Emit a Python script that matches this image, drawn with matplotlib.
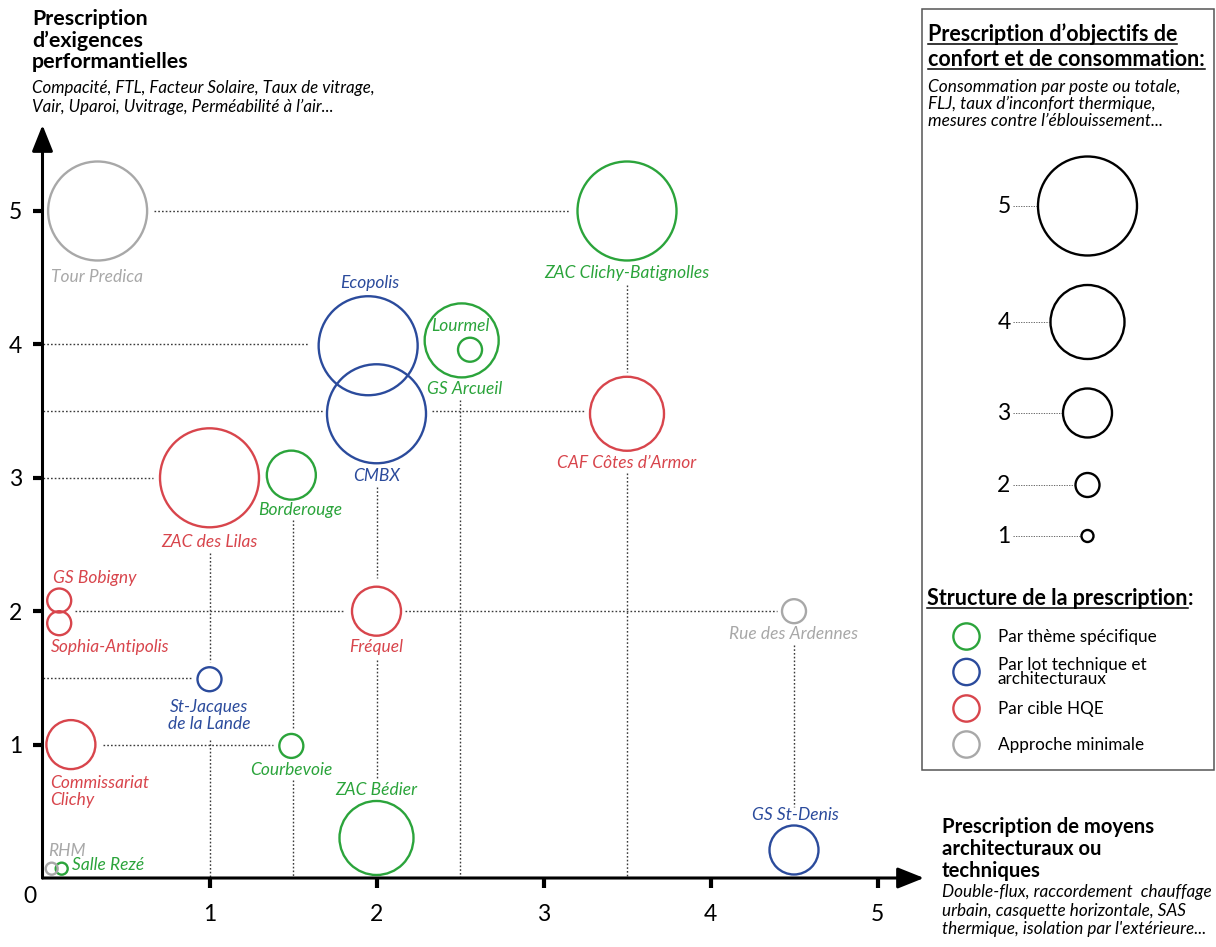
import matplotlib.pyplot as plt
from matplotlib.patches import Rectangle

plt.rcParams['font.family'] = ['Lato', 'DejaVu Sans']

PX = 0.72  # points per pixel (dpi 100)

# --- projets : moyens (x), exigences (y), objectifs (taille), structure (couleur)
projets = ['Tour Predica', 'ZAC Clichy-Batignolles', 'Ecopolis', 'CMBX', 'Lourmel',
           'GS Arcueil', 'CAF Côtes d’Armor', 'ZAC des Lilas', 'Borderouge', 'GS Bobigny',
           'Sophia-Antipolis', 'Fréquel', 'Rue des Ardennes', 'St-Jacques\nde la Lande',
           'Commissariat\nClichy', 'Courbevoie', 'ZAC Bédier', 'GS St-Denis', 'RHM', 'Salle Rezé']
moyens = [0.33, 3.5, 1.95, 2.0, 2.51, 2.56, 3.5, 1.0, 1.49, 0.1,
          0.1, 2.0, 4.5, 1.0, 0.17, 1.49, 2.0, 4.5, 0.055, 0.115]
exigences = [5.0, 5.0, 3.99, 3.48, 4.03, 3.96, 3.48, 3.0, 3.02, 2.08,
             1.91, 2.0, 2.0, 1.49, 1.0, 0.99, 0.3, 0.21, 0.07, 0.07]
objectifs = [5, 5, 5, 5, 4, 2, 4, 5, 3, 2,
             2, 3, 2, 2, 3, 2, 4, 3, 1, 1]
structure = ['minimale', 'theme', 'lot', 'lot', 'theme', 'theme', 'hqe', 'hqe', 'theme', 'hqe',
             'hqe', 'hqe', 'minimale', 'lot', 'hqe', 'theme', 'theme', 'lot', 'minimale', 'theme']

# dotted guide lines: (y, x from, x to) and (x, y from, y to)
guides_h = [(5, 0.665, 3.15), (4, 0, 1.596), (3.5, 0, 1.677), (3.5, 2.335, 3.243),
            (3, 0, 0.66), (2, 0.195, 1.805), (2, 2.17, 4.398), (1.5, 0, 0.90), (1, 0.362, 1.38)]
guides_v = [(1, 2.436, 1.619), (1, 1.034, 0), (1.5, 2.684, 1.109), (1.5, 0.735, 0),
            (2, 2.931, 2.249), (2, 1.634, 0.735), (2.5, 3.583, 0),
            (3.5, 4.445, 3.793), (3.5, 3.036, 0), (4.5, 1.747, 0.532)]

ticks = [1, 2, 3, 4, 5]
niveaux = [5, 4, 3, 2, 1]
structures = ['theme', 'lot', 'hqe', 'minimale']
structure_labels = ['Par thème spécifique', 'Par lot technique et\narchitecturaux',
                    'Par cible HQE', 'Approche minimale']

colors = {'theme': '#2ba43b', 'lot': '#2b4b9c', 'hqe': '#d8454c', 'minimale': '#a8a8a8'}
diam_px = {1: 12, 2: 24, 3: 49, 4: 74, 5: 99}

# label offsets in pixels (dx, dy downwards, ha)
label_pos = {
    'Tour Predica': (-1, 66, 'center'),
    'ZAC Clichy-Batignolles': (0, 62, 'center'),
    'Ecopolis': (2, -63, 'center'),
    'CMBX': (0, 62, 'center'),
    'Lourmel': (-1, -14, 'center'),
    'GS Arcueil': (-5, 39, 'center'),
    'CAF Côtes d’Armor': (0, 49, 'center'),
    'ZAC des Lilas': (0, 64, 'center'),
    'Borderouge': (9, 35, 'center'),
    'GS Bobigny': (-6, -23, 'left'),
    'Sophia-Antipolis': (-8, 24, 'left'),
    'Fréquel': (0, 36, 'center'),
    'Rue des Ardennes': (0, 23, 'center'),
    'St-Jacques\nde la Lande': (0, 36, 'center'),
    'Commissariat\nClichy': (-21, 47, 'left'),
    'Courbevoie': (0, 24, 'center'),
    'ZAC Bédier': (0, -48, 'center'),
    'GS St-Denis': (1, -35, 'center'),
    'RHM': (-4, -18, 'left'),
    'Salle Rezé': (10, -4, 'left'),
}


def msize(level):
    return (diam_px[level] * PX) ** 2


fig = plt.figure(figsize=(12.16, 9.47), dpi=100)

# page axes in pixel coordinates for titles and legend
page = fig.add_axes([0, 0, 1, 1])
page.set_xlim(0, 1216)
page.set_ylim(947, 0)
page.axis('off')

ax = fig.add_axes([42.5 / 1216, 69 / 947, (924 - 42.5) / 1216, (878 - 125) / 947])
ax.set_xlim(0, (924 - 42.5) / 167)
ax.set_ylim(0, (878 - 125) / 133.4)
ax.patch.set_visible(False)
for sp in ax.spines.values():
    sp.set_visible(False)
ax.set_xticks(ticks)
ax.set_yticks(ticks)
ax.tick_params(direction='out', length=7.5, width=3, labelsize=16.5)
ax.tick_params(axis='x', pad=11)
ax.tick_params(axis='y', pad=7)

arrow = dict(arrowstyle='-|>,head_length=0.8,head_width=0.32', lw=2.2, color='k',
             shrinkA=0, shrinkB=0, mutation_scale=20)
ax.annotate('', xy=(1, 0), xytext=(0, 0), xycoords='axes fraction', arrowprops=arrow,
            annotation_clip=False)
ax.annotate('', xy=(0, 1), xytext=(0, 0), xycoords='axes fraction', arrowprops=arrow,
            annotation_clip=False)
ax.annotate('0', xy=(0, 0), xytext=(-12.5 * PX, -18 * PX), textcoords='offset points',
            ha='center', va='center', fontsize=16.5, annotation_clip=False)

for y, x0, x1 in guides_h:
    ax.plot([x0, x1], [y, y], color='#3a3a3a', lw=1.0, dashes=(1.2, 1.5), zorder=1)
for x, y0, y1 in guides_v:
    ax.plot([x, x], [y0, y1], color='#3a3a3a', lw=1.0, dashes=(1.2, 1.5), zorder=1)

for st in structures:
    idx = [i for i, s in enumerate(structure) if s == st]
    ax.scatter([moyens[i] for i in idx], [exigences[i] for i in idx],
               s=[msize(objectifs[i]) for i in idx], facecolors='none',
               edgecolors=colors[st], linewidths=1.7, clip_on=False, zorder=3)

for name, x, y, st in zip(projets, moyens, exigences, structure):
    dx, dy, ha = label_pos[name]
    ax.annotate(name, (x, y), xytext=(dx * PX, -dy * PX), textcoords='offset points',
                ha=ha, va='center', color=colors[st], style='italic', fontsize=12.5,
                linespacing=1.1, annotation_clip=False)

# axis titles
for txt, yb in zip(['Prescription', 'd’exigences', 'performantielles'], [25, 47, 68]):
    page.text(32, yb, txt, fontsize=15.4, fontweight='bold', va='baseline')
for txt, yb in zip(['Compacité, FTL, Facteur Solaire, Taux de vitrage,',
                    'Vair, Uparoi, Uvitrage, Perméabilité à l’air...'], [93, 112]):
    page.text(32, yb, txt, fontsize=12.2, style='italic', va='baseline')

for txt, yb in zip(['Prescription de moyens', 'architecturaux ou', 'techniques'], [833, 855, 877]):
    page.text(942, yb, txt, fontsize=14.6, fontweight='bold', va='baseline')
for txt, yb in zip(['Double-flux, raccordement  chauffage', 'urbain, casquette horizontale, SAS',
                    "thermique, isolation par l'extérieure..."], [897, 916, 934]):
    page.text(942, yb, txt, fontsize=12.3, style='italic', va='baseline')

# legend box
page.add_patch(Rectangle((921.5, 8.5), 292, 761, fill=False, ec='#555555', lw=1.1))

underlined = []
for txt, yb in zip(['Prescription d’objectifs de', 'confort et de consommation:'], [41, 66]):
    underlined.append((page.text(928, yb, txt, fontsize=15.5, fontweight='bold',
                                 va='baseline'), yb))
for txt, yb in zip(['Consommation par poste ou totale,', 'FLJ, taux d’inconfort thermique,',
                    'mesures contre l’éblouissement...'], [92, 109, 126]):
    page.text(928, yb, txt, fontsize=12.4, style='italic', va='baseline')

size_y = [206, 322, 413, 485, 536]
page.scatter([1087.5] * len(niveaux), size_y, s=[msize(n) for n in niveaux],
             facecolors='none', edgecolors='k', linewidths=1.7, zorder=3)
for n, yc in zip(niveaux, size_y):
    page.text(1004, yc, str(n), fontsize=16.5, ha='center', va='center')
    page.plot([1013, 1087.5 - diam_px[n] / 2 - 1.5], [yc, yc], color='#666666', lw=0.7,
              dashes=(1.3, 1.3))

struct_title = page.text(927, 605, 'Structure de la prescription', fontsize=15.5,
                         fontweight='bold', va='baseline')
underlined.append((struct_title, 605))

leg_y = [636.5, 672, 708.5, 744.5]
page.scatter([966.5] * len(structures), leg_y, s=msize(2) * 1.2, facecolors='none',
             edgecolors=[colors[s] for s in structures], linewidths=1.7, zorder=3)
for lab, yc in zip(structure_labels, leg_y):
    page.text(998, yc, lab, fontsize=12.3, va='center', linespacing=0.9)

fig.canvas.draw()
for t, yb in underlined:
    bb = t.get_window_extent()
    page.plot([bb.x0, bb.x1], [yb + 3, yb + 3], color='k', lw=1.1)
bb = struct_title.get_window_extent()
page.text(bb.x1, 605, ':', fontsize=15.5, fontweight='bold', va='baseline')

fig.savefig('out.png', dpi=100)
